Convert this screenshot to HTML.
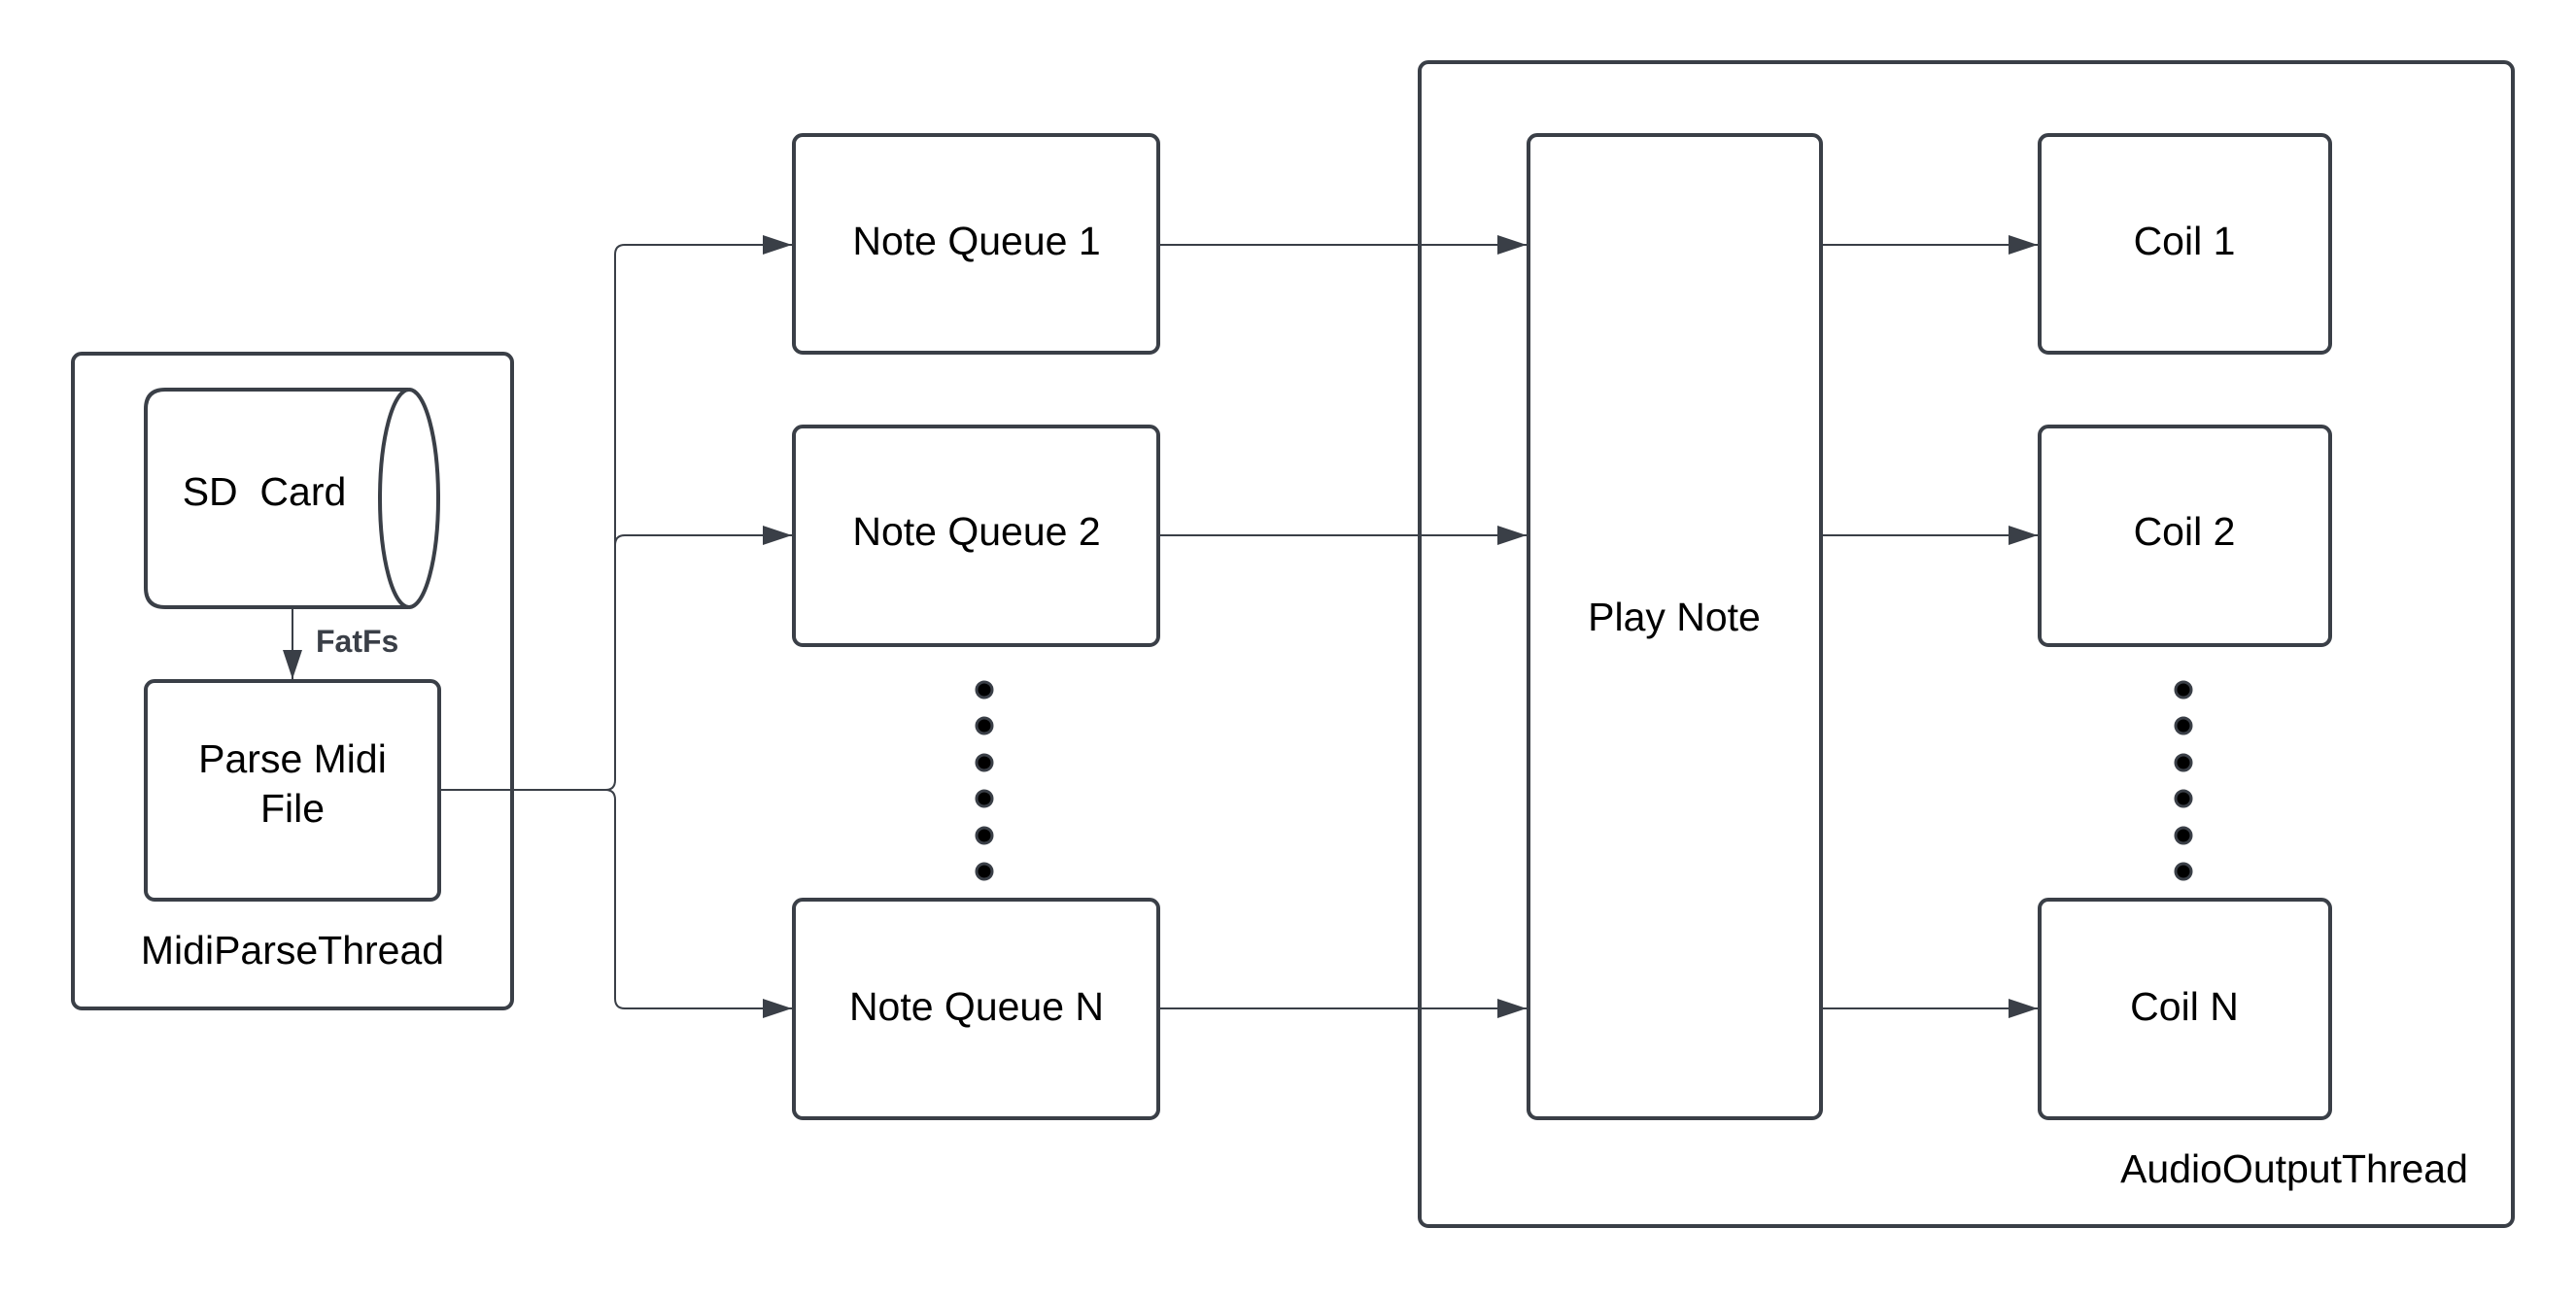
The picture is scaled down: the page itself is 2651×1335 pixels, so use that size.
<!DOCTYPE html>
<html><head><meta charset="utf-8"><style>
html,body{margin:0;padding:0;background:#fff;}
svg{display:block;}
text{font-family:"Liberation Sans",sans-serif;fill:#000;}
</style></head><body>
<svg width="2651" height="1335" viewBox="0 0 2651 1335" xmlns="http://www.w3.org/2000/svg">
<defs>
<marker id="a" markerWidth="30" markerHeight="20" refX="30" refY="10" orient="auto" markerUnits="userSpaceOnUse">
<path d="M0,0 L30,10 L0,20 Z" fill="#3a3f47"/>
</marker>
</defs>
<g fill="none" stroke="#3a3f47" stroke-width="4">
<rect x="75" y="364" width="452" height="674" rx="9"/>
<rect x="1461" y="64" width="1125" height="1198" rx="9"/>
<path d="M420,401 L170,401 Q150,401 150,421 L150,605 Q150,625 170,625 L420,625"/>
<ellipse cx="421" cy="513" rx="30" ry="112"/>
<rect x="150" y="701" width="302" height="225" rx="9"/>
<rect x="817" y="139" width="375" height="224" rx="9"/>
<rect x="817" y="439" width="375" height="225" rx="9"/>
<rect x="817" y="926" width="375" height="225" rx="9"/>
<rect x="1573" y="139" width="301" height="1012" rx="9"/>
<rect x="2099" y="139" width="299" height="224" rx="9"/>
<rect x="2099" y="439" width="299" height="225" rx="9"/>
<rect x="2099" y="926" width="299" height="225" rx="9"/>
</g>
<g fill="none" stroke="#3a3f47" stroke-width="2">
<path d="M301,625 L301,699" marker-end="url(#a)"/>
<path d="M452,813 L623,813 Q633,813 633,803 L633,262 Q633,252 643,252 L815,252" marker-end="url(#a)"/>
<path d="M633,803 L633,561 Q633,551 643,551 L815,551" marker-end="url(#a)"/>
<path d="M623,813 Q633,813 633,823 L633,1028 Q633,1038 643,1038 L815,1038" marker-end="url(#a)"/>
<path d="M1192,252 L1571,252" marker-end="url(#a)"/>
<path d="M1192,551 L1571,551" marker-end="url(#a)"/>
<path d="M1192,1038 L1571,1038" marker-end="url(#a)"/>
<path d="M1874,252 L2097,252" marker-end="url(#a)"/>
<path d="M1874,551 L2097,551" marker-end="url(#a)"/>
<path d="M1874,1038 L2097,1038" marker-end="url(#a)"/>
</g>
<g fill="#000" stroke="#3a3f47" stroke-width="3">
<circle cx="1013" cy="710" r="8"/><circle cx="1013" cy="747" r="8"/><circle cx="1013" cy="785" r="8"/>
<circle cx="1013" cy="822" r="8"/><circle cx="1013" cy="860" r="8"/><circle cx="1013" cy="897" r="8"/>
<circle cx="2247" cy="710" r="8"/><circle cx="2247" cy="747" r="8"/><circle cx="2247" cy="785" r="8"/>
<circle cx="2247" cy="822" r="8"/><circle cx="2247" cy="860" r="8"/><circle cx="2247" cy="897" r="8"/>
</g>
<g font-size="41" text-anchor="middle">
<text x="272" y="520" xml:space="preserve">SD  Card</text>
<text x="301" y="795">Parse Midi</text>
<text x="301" y="846">File</text>
<text x="301" y="992">MidiParseThread</text>
<text x="1005" y="262">Note Queue 1</text>
<text x="1005" y="561">Note Queue 2</text>
<text x="1005" y="1050">Note Queue N</text>
<text x="1723" y="649">Play Note</text>
<text x="2248" y="262">Coil 1</text>
<text x="2248" y="561">Coil 2</text>
<text x="2248" y="1050">Coil N</text>
<text x="2361" y="1217">AudioOutputThread</text>
</g>
<text x="325" y="671" font-size="32" font-weight="bold" style="fill:#3a3f47">FatFs</text>
</svg>
</body></html>
